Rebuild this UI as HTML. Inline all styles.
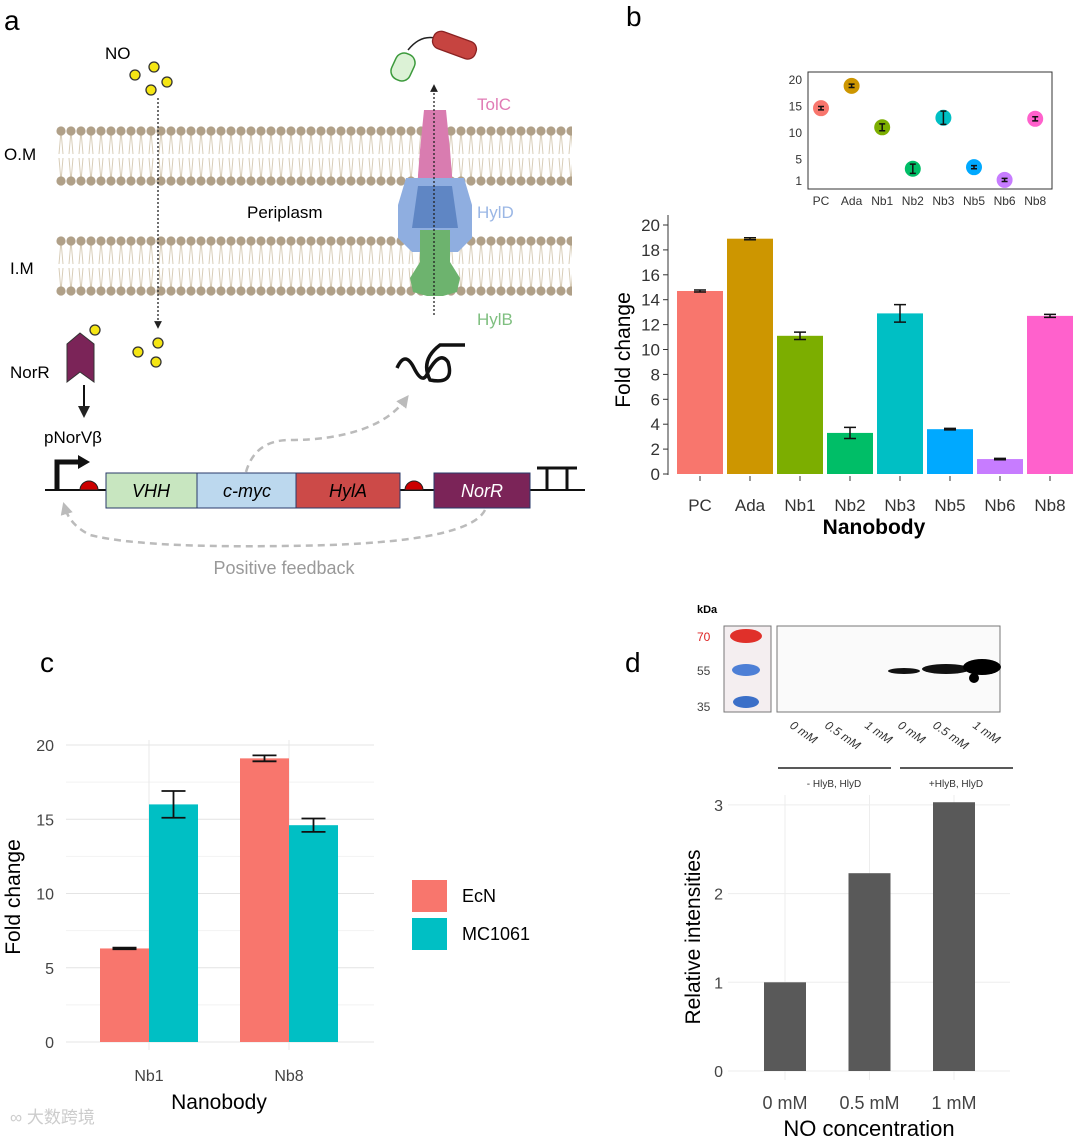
<!DOCTYPE html>
<html><head><meta charset="utf-8">
<style>
html,body{margin:0;padding:0;background:#fff;}
svg{display:block;font-family:"Liberation Sans",sans-serif;}
</style></head>
<body>
<svg id="fig" width="1080" height="1138" viewBox="0 0 1080 1138" xmlns="http://www.w3.org/2000/svg">
<defs>
<pattern id="lip1" x="56" y="126" width="10" height="60" patternUnits="userSpaceOnUse">
<path d="M5 5 L3 28 M5 5 L7 28 M5 55 L3 32 M5 55 L7 32" stroke="#d8cdb8" stroke-width="1" fill="none"/>
<circle cx="5" cy="5" r="4.6" fill="#b0a088"/>
<circle cx="5" cy="55" r="4.6" fill="#b0a088"/>
</pattern>
<pattern id="lip2" x="56" y="236" width="10" height="60" patternUnits="userSpaceOnUse">
<path d="M5 5 L3 28 M5 5 L7 28 M5 55 L3 32 M5 55 L7 32" stroke="#d8cdb8" stroke-width="1" fill="none"/>
<circle cx="5" cy="5" r="4.6" fill="#b0a088"/>
<circle cx="5" cy="55" r="4.6" fill="#b0a088"/>
</pattern>
<marker id="arr" viewBox="0 0 10 10" refX="5" refY="5" markerWidth="6" markerHeight="6" orient="auto"><path d="M0 0 L10 5 L0 10z" fill="#222"/></marker>
<marker id="arrg" viewBox="0 0 10 10" refX="5" refY="5" markerWidth="5" markerHeight="5" orient="auto"><path d="M0 0 L10 5 L0 10z" fill="#bbb"/></marker>
</defs>

<!-- Panel a -->
<g>
<text x="4" y="30" font-size="28">a</text>
<rect x="56" y="126" width="516" height="60" fill="url(#lip1)"/>
<rect x="56" y="236" width="516" height="60" fill="url(#lip2)"/>
<text x="4" y="160" font-size="17">O.M</text>
<text x="10" y="274" font-size="17">I.M</text>
<text x="247" y="218" font-size="17">Periplasm</text>
<text x="105" y="59" font-size="17">NO</text>
<g fill="#f5e614" stroke="#333" stroke-width="1.3">
<circle cx="135" cy="75" r="5"/><circle cx="154" cy="67" r="5"/><circle cx="167" cy="82" r="5"/><circle cx="151" cy="90" r="5"/>
</g>
<line x1="158" y1="98" x2="158" y2="325" stroke="#222" stroke-width="1.3" stroke-dasharray="2,2" marker-end="url(#arr)"/>
<g fill="#f5e614" stroke="#333" stroke-width="1.3">
<circle cx="138" cy="352" r="5"/><circle cx="158" cy="343" r="5"/><circle cx="156" cy="362" r="5"/>
</g>
<!-- transporter -->
<g>
<path d="M424 110 L446 110 L450 150 L452 175 L452 200 L418 200 L418 175 L420 150z" fill="#d97cb0"/>
<path d="M406 178 L464 178 L472 205 L472 238 L458 252 L412 252 L398 238 L398 205z" fill="#8faee0"/>
<path d="M418 186 L452 186 L458 228 L412 228z" fill="#5f86c4"/>
<path d="M420 230 L450 230 L450 262 L460 278 L457 292 L443 296 L427 296 L413 292 L410 278 L420 262z" fill="#6db36e"/>
<text x="477" y="110" font-size="17" fill="#e07bb5">TolC</text>
<text x="477" y="218" font-size="17" fill="#9bb7e5">HylD</text>
<text x="477" y="325" font-size="17" fill="#7fbf80">HylB</text>
</g>
<line x1="434" y1="315" x2="434" y2="88" stroke="#222" stroke-width="1.3" stroke-dasharray="2,2" marker-end="url(#arr)"/>
<g>
<rect x="393" y="53" width="20" height="28" rx="9" fill="#dcf2d6" stroke="#3c9a3c" stroke-width="1.5" transform="rotate(25 403 67)"/>
<path d="M408 50 Q420 35 435 38" stroke="#222" stroke-width="1.5" fill="none"/>
<rect x="432" y="36" width="45" height="18" rx="8" fill="#c64440" stroke="#8a2222" stroke-width="1.3" transform="rotate(20 454 45)"/>
</g>
<path d="M397 368 Q405 350 414 368 T428 372 Q440 350 448 362 Q455 385 430 380 Q420 360 440 345 L465 345" stroke="#111" stroke-width="3.5" fill="none"/>
<text x="10" y="378" font-size="17">NorR</text>
<path d="M67 344 L80 333 L94 344 L94 382 L80 372 L67 382z" fill="#7b2458" stroke="#333"/>
<circle cx="95" cy="330" r="5" fill="#f5e614" stroke="#333" stroke-width="1.3"/>
<line x1="84" y1="385" x2="84" y2="412" stroke="#111" stroke-width="2" marker-end="url(#arr)"/>
<text x="44" y="443" font-size="17">pNorVβ</text>
<line x1="45" y1="490" x2="585" y2="490" stroke="#111" stroke-width="2"/>
<path d="M57 490 L57 462 L80 462" stroke="#111" stroke-width="5" fill="none"/>
<path d="M78 455 L90 462 L78 469z" fill="#111"/>
<path d="M80 490 A9 9 0 0 1 98 490z" fill="#c00" stroke="#222"/>
<path d="M405 490 A9 9 0 0 1 423 490z" fill="#c00" stroke="#222"/>
<rect x="106" y="473" width="91" height="35" fill="#c8e6c0" stroke="#2a3a6a"/>
<rect x="197" y="473" width="99" height="35" fill="#bcd8ee" stroke="#2a3a6a"/>
<rect x="296" y="473" width="104" height="35" fill="#cc4a48" stroke="#2a3a6a"/>
<rect x="434" y="473" width="96" height="35" fill="#7b2458" stroke="#2a3a6a"/>
<g font-size="18" font-style="italic" text-anchor="middle">
<text x="151" y="497">VHH</text><text x="247" y="497">c-myc</text><text x="348" y="497">HylA</text><text x="482" y="497" fill="#fff">NorR</text>
</g>
<path d="M537 468 L557 468 M547 468 L547 490 M557 468 L577 468 M567 468 L567 490" stroke="#111" stroke-width="3"/>
<path d="M246 472 Q255 440 290 440 Q330 440 360 430 Q390 420 405 400" stroke="#bbb" stroke-width="2.5" stroke-dasharray="7,5" fill="none" marker-end="url(#arrg)"/>
<path d="M485 510 Q470 540 330 545 Q150 550 90 535 Q70 525 65 508" stroke="#bbb" stroke-width="2.5" stroke-dasharray="7,5" fill="none" marker-end="url(#arrg)"/>
<text x="284" y="574" font-size="18" fill="#999" text-anchor="middle">Positive feedback</text>
</g>

<!-- Panel b -->
<text x="626" y="26" font-size="28">b</text>
<g id="inset"></g>
<g id="chartB"></g>

<!-- Panel c -->
<text x="40" y="672" font-size="28">c</text>
<g id="chartC"></g>

<!-- Panel d -->
<text x="625" y="672" font-size="28">d</text>
<g>
<text x="697" y="613" font-size="11" font-weight="bold">kDa</text>
<text x="697" y="641" font-size="12" fill="#d22">70</text>
<text x="697" y="675" font-size="12" fill="#444">55</text>
<text x="697" y="711" font-size="12" fill="#444">35</text>
<rect x="724" y="626" width="47" height="86" fill="#f4eef0" stroke="#777"/>
<ellipse cx="746" cy="636" rx="16" ry="7" fill="#e0302a"/>
<ellipse cx="746" cy="670" rx="14" ry="6" fill="#4d7fd6"/>
<ellipse cx="746" cy="702" rx="13" ry="6" fill="#3b6fc8"/>
<rect x="777" y="626" width="223" height="86" fill="#fafafa" stroke="#777"/>
<ellipse cx="904" cy="671" rx="16" ry="3" fill="#111"/>
<ellipse cx="946" cy="669" rx="24" ry="5" fill="#111"/>
<ellipse cx="982" cy="667" rx="19" ry="8" fill="#000"/>
<ellipse cx="974" cy="678" rx="5" ry="5" fill="#000"/>
<g font-size="12" font-style="italic" fill="#333">
<text transform="translate(789 727) rotate(35)">0 mM</text>
<text transform="translate(824 727) rotate(35)">0.5 mM</text>
<text transform="translate(864 727) rotate(35)">1 mM</text>
<text transform="translate(897 727) rotate(35)">0 mM</text>
<text transform="translate(932 727) rotate(35)">0.5 mM</text>
<text transform="translate(972 727) rotate(35)">1 mM</text>
</g>
<line x1="778" y1="768" x2="891" y2="768" stroke="#222" stroke-width="1.5"/>
<line x1="900" y1="768" x2="1013" y2="768" stroke="#222" stroke-width="1.5"/>
<text x="834" y="787" font-size="10" text-anchor="middle" fill="#333">- HlyB, HlyD</text>
<text x="956" y="787" font-size="10" text-anchor="middle" fill="#333">+HlyB, HlyD</text>
</g>
<g id="chartD"></g>
<text x="10" y="1123" font-size="17" fill="#ccc">∞ 大数跨境</text>
</svg>
<script>
const NS="http://www.w3.org/2000/svg";
function mk(p,t,a,txt){const e=document.createElementNS(NS,t);for(const k in a)e.setAttribute(k,a[k]);if(txt!==undefined)e.textContent=txt;p.appendChild(e);return e;}

// ---- Panel b data ----
const bCategories=["PC","Ada","Nb1","Nb2","Nb3","Nb5","Nb6","Nb8"];
const bValues=[14.7,18.9,11.1,3.3,12.9,3.6,1.2,12.7];
const bErrors=[0.08,0.08,0.3,0.45,0.7,0.06,0.06,0.12];
const bColors=["#f8766d","#cd9600","#7cae00","#00be67","#00bfc4","#00a9ff","#c77cff","#ff61cc"];
const bTicks=[0,2,4,6,8,10,12,14,16,18,20];
const insetTicks=[1,5,10,15,20];

// ---- Panel c data ----
const cCategories=["Nb1","Nb8"];
const cSeries=["EcN","MC1061"];
const cEcN=[6.3,19.1];
const cEcNErr=[0.05,0.2];
const cMC=[16.0,14.6];
const cMCErr=[0.9,0.45];
const cTicks=[0,5,10,15,20];

// ---- Panel d data ----
const dCategories=["0 mM","0.5 mM","1 mM"];
const dValues=[1.0,2.23,3.03];
const dTicks=[0,1,2,3];

// Panel b main
(function(){
const g=document.getElementById('chartB');
const y=v=>474-v*12.45, x=i=>700+i*50, bw=46;
bTicks.forEach(t=>{
 const l=mk(g,'text',{x:660,y:y(t)+6,'font-size':17,'text-anchor':'end',fill:'#333'},t);
 
 
 mk(g,'line',{x1:663,x2:668,y1:y(t),y2:y(t),stroke:'#333'});
});
mk(g,'line',{x1:668,x2:668,y1:215,y2:475,stroke:'#333'});
bCategories.forEach((c,i)=>{
 const r=mk(g,'rect',{x:x(i)-bw/2,y:y(bValues[i]),width:bw,height:y(0)-y(bValues[i]),fill:bColors[i]});
 
 
 const hi=y(bValues[i]+bErrors[i]),lo=y(bValues[i]-bErrors[i]);
 mk(g,'path',{d:`M${x(i)-6} ${hi}H${x(i)+6}M${x(i)} ${hi}V${lo}M${x(i)-6} ${lo}H${x(i)+6}`,stroke:'#111','stroke-width':1.5,fill:'none'});
 mk(g,'line',{x1:x(i),x2:x(i),y1:476,y2:481,stroke:'#333'});
 const l=mk(g,'text',{x:x(i),y:511,'font-size':17,'text-anchor':'middle',fill:'#333'},c);
 
 
});
const xt=mk(g,'text',{x:874,y:534,'font-size':21,'font-weight':'bold','text-anchor':'middle'},'Nanobody');


const yt=mk(g,'text',{transform:'translate(630 350) rotate(-90)','font-size':21,'text-anchor':'middle'},'Fold change');



// inset
const gi=document.getElementById('inset');
mk(gi,'rect',{x:808,y:72,width:244,height:117,fill:'#fff',stroke:'#333'});
const iy=v=>181-(v-1)*(101/19), ix=i=>821+i*30.6;
insetTicks.forEach(t=>{
 const l=mk(gi,'text',{x:802,y:iy(t)+4,'font-size':12,'text-anchor':'end',fill:'#333'},t);
 
 
});
bCategories.forEach((c,i)=>{
 const p=mk(gi,'circle',{cx:ix(i),cy:iy(bValues[i]),r:8,fill:bColors[i]});
 
 
 const hi=iy(bValues[i]+bErrors[i]*1.5+0.2),lo=iy(bValues[i]-bErrors[i]*1.5-0.2);
 mk(gi,'path',{d:`M${ix(i)-3} ${hi}H${ix(i)+3}M${ix(i)} ${hi}V${lo}M${ix(i)-3} ${lo}H${ix(i)+3}`,stroke:'#111','stroke-width':1.5});
 const l=mk(gi,'text',{x:ix(i),y:205,'font-size':12,'text-anchor':'middle',fill:'#333'},c);
 
 
});
})();

// Panel c
(function(){
const g=document.getElementById('chartC');
const y=v=>1042-v*14.85, cx=i=>149+i*140, bw=49;
[2.5,7.5,12.5,17.5].forEach(t=>mk(g,'line',{x1:66,x2:374,y1:y(t),y2:y(t),stroke:'#f2f2f2'}));
cTicks.forEach(t=>{
 mk(g,'line',{x1:66,x2:374,y1:y(t),y2:y(t),stroke:'#e4e4e4'});
 const l=mk(g,'text',{x:54,y:y(t)+6,'font-size':16,'text-anchor':'end',fill:'#444'},t);
 
 
});
cCategories.forEach((c,i)=>mk(g,'line',{x1:cx(i),x2:cx(i),y1:740,y2:1050,stroke:'#e8e8e8'}));
cCategories.forEach((c,i)=>{
 const b1=mk(g,'rect',{x:cx(i)-bw,y:y(cEcN[i]),width:bw,height:y(0)-y(cEcN[i]),fill:'#f8766d'});
 
 
 const b2=mk(g,'rect',{x:cx(i),y:y(cMC[i]),width:bw,height:y(0)-y(cMC[i]),fill:'#00bfc4'});
 
 
 [[cx(i)-bw/2,cEcN[i],cEcNErr[i]],[cx(i)+bw/2,cMC[i],cMCErr[i]]].forEach(([xx,v,e])=>{
  const hi=y(v+e),lo=y(v-e);
  mk(g,'path',{d:`M${xx-12} ${hi}H${xx+12}M${xx} ${hi}V${lo}M${xx-12} ${lo}H${xx+12}`,stroke:'#111','stroke-width':1.8,fill:'none'});
 });
 const l=mk(g,'text',{x:cx(i),y:1081,'font-size':16,'text-anchor':'middle',fill:'#444'},c);
 
 
});
const xt=mk(g,'text',{x:219,y:1109,'font-size':21,'text-anchor':'middle'},'Nanobody');


const yt=mk(g,'text',{transform:'translate(20 897) rotate(-90)','font-size':21,'text-anchor':'middle'},'Fold change');


const cols=['#f8766d','#00bfc4'];
cSeries.forEach((s,i)=>{
 const r=mk(g,'rect',{x:412,y:880+i*38,width:35,height:32,fill:cols[i]});
 
 
 const l=mk(g,'text',{x:462,y:902+i*38,'font-size':18},s);
 
 
});
})();

// Panel d
(function(){
const g=document.getElementById('chartD');
const y=v=>1071-v*88.7, cx=i=>785+i*84.5, bw=42;
dCategories.forEach((c,i)=>mk(g,'line',{x1:cx(i),x2:cx(i),y1:795,y2:1080,stroke:'#ededed'}));
dTicks.forEach(t=>{
 mk(g,'line',{x1:728,x2:1010,y1:y(t),y2:y(t),stroke:'#ededed'});
 const l=mk(g,'text',{x:723,y:y(t)+6,'font-size':16,'text-anchor':'end',fill:'#444'},t);
 
 
});
dCategories.forEach((c,i)=>{
 const r=mk(g,'rect',{x:cx(i)-bw/2,y:y(dValues[i]),width:bw,height:y(0)-y(dValues[i]),fill:'#595959'});
 
 
 const l=mk(g,'text',{x:cx(i),y:1109,'font-size':18,'text-anchor':'middle',fill:'#444'},c);
 
 
});
const xt=mk(g,'text',{x:869,y:1136,'font-size':22,'text-anchor':'middle'},'NO concentration');


const yt=mk(g,'text',{transform:'translate(700 937) rotate(-90)','font-size':21,'text-anchor':'middle'},'Relative intensities');


})();
</script>
</body></html>
